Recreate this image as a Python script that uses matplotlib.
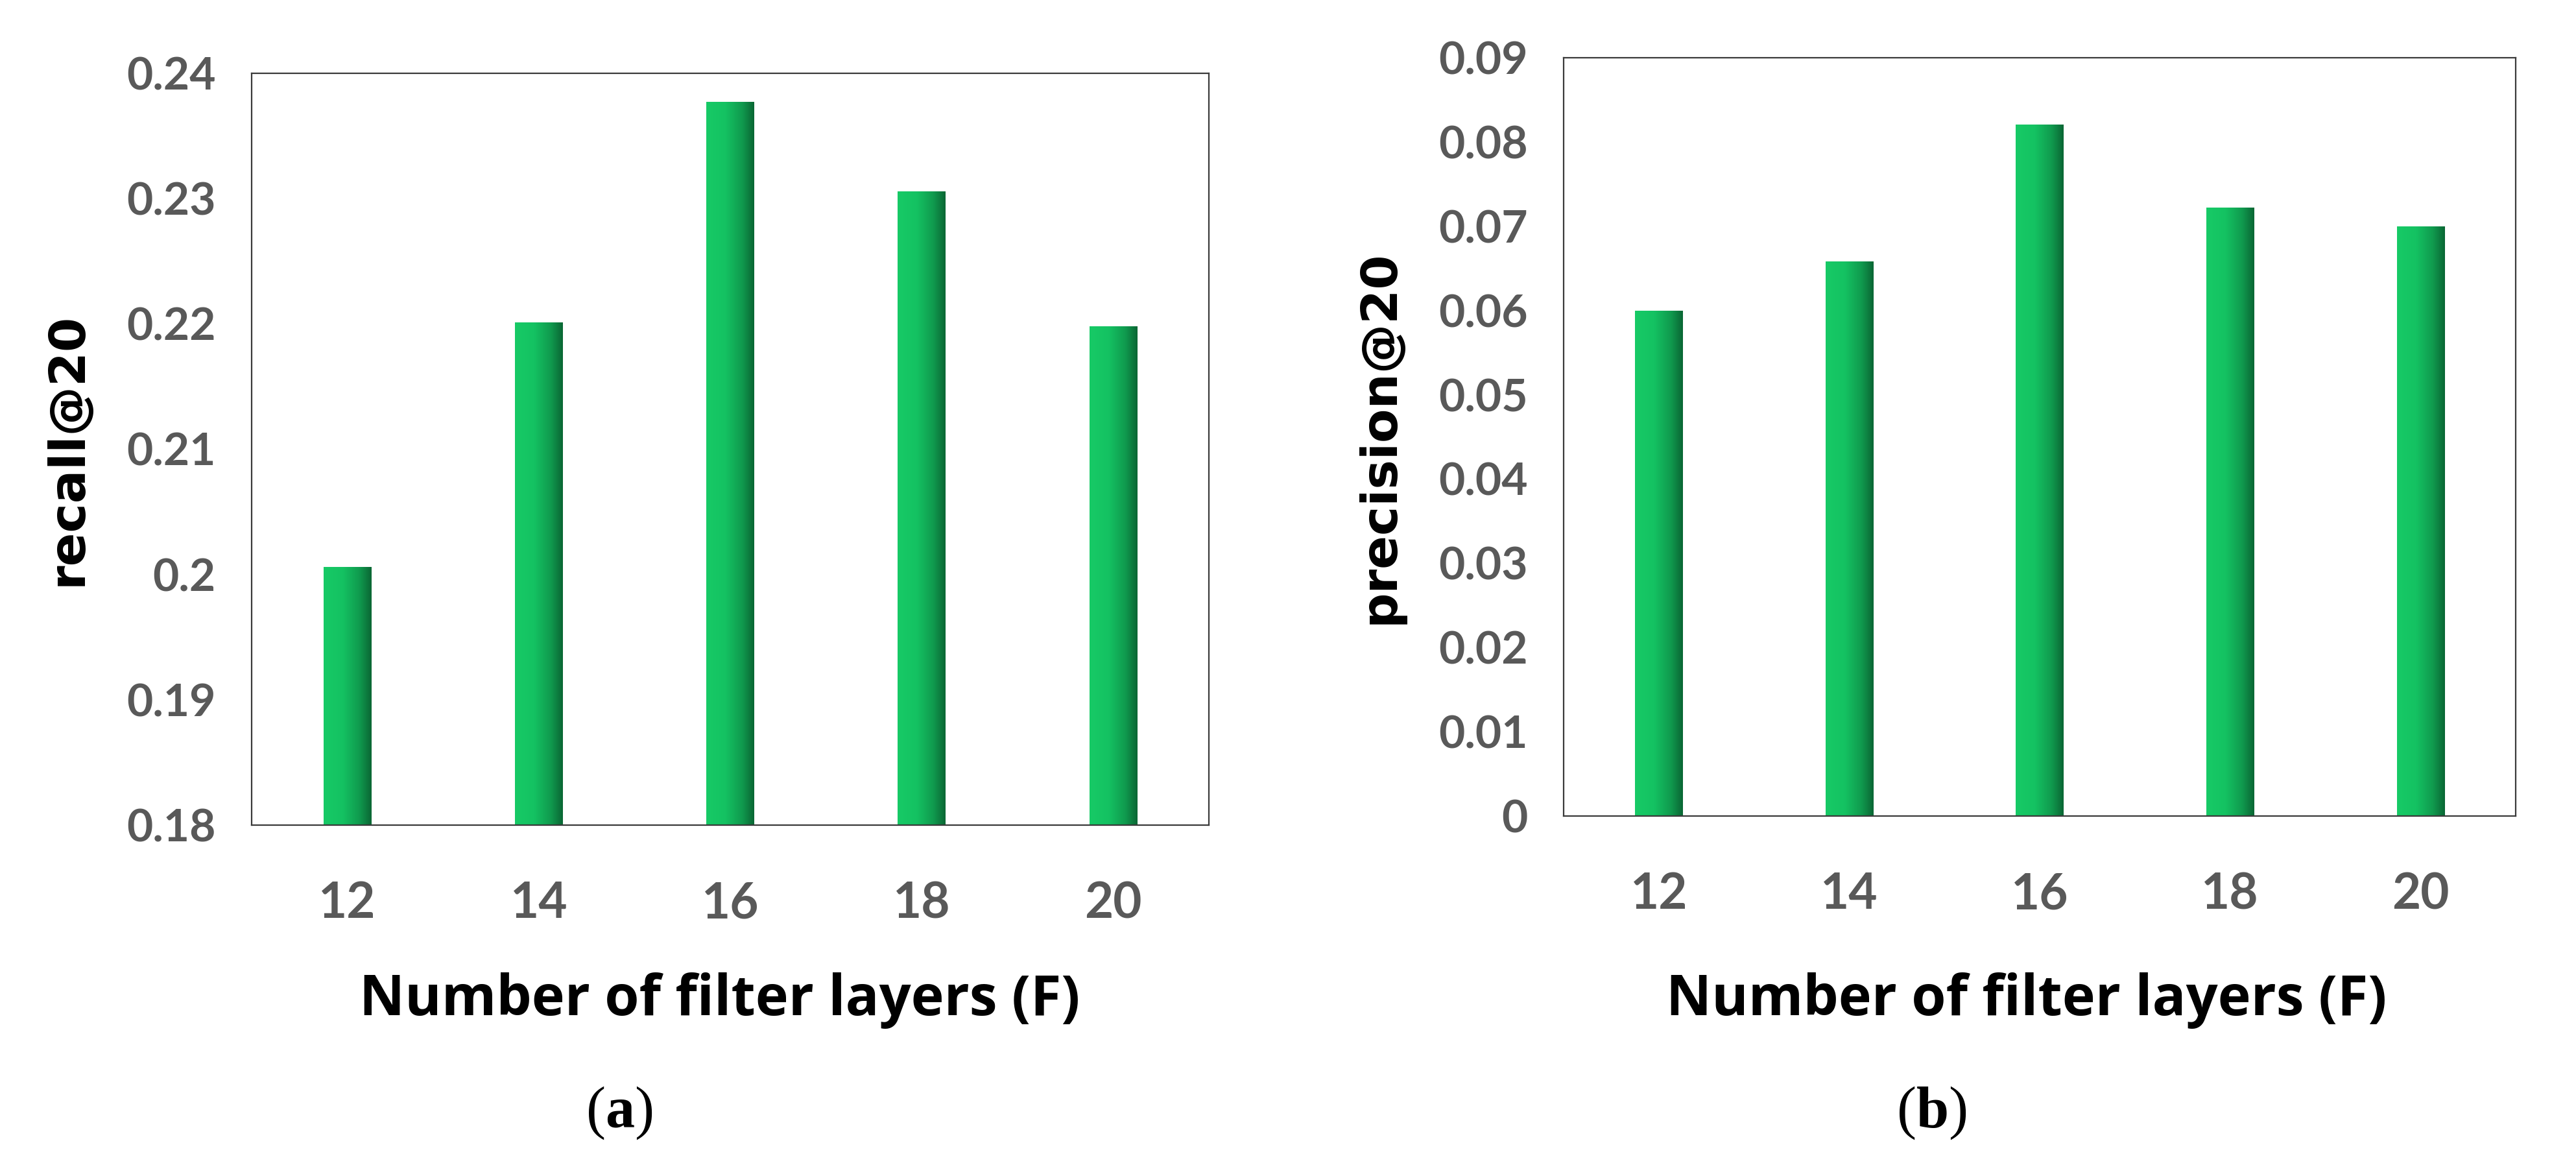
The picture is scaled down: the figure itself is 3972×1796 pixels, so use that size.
import numpy as np
import matplotlib
matplotlib.use("Agg")
import matplotlib.pyplot as plt
from matplotlib import font_manager as fm
from matplotlib.colors import LinearSegmentedColormap

# data
layers = ['12', '14', '16', '18', '20']
recall = [0.2006, 0.2201, 0.2377, 0.2306, 0.2198]
precision = [0.0600, 0.0658, 0.0821, 0.0722, 0.0700]
recall_ticks = [0.18, 0.19, 0.20, 0.21, 0.22, 0.23, 0.24]
recall_ticklabels = ['0.18', '0.19', '0.2', '0.21', '0.22', '0.23', '0.24']
prec_ticks = [0, 0.01, 0.02, 0.03, 0.04, 0.05, 0.06, 0.07, 0.08, 0.09]
prec_ticklabels = ['0', '0.01', '0.02', '0.03', '0.04', '0.05', '0.06', '0.07', '0.08', '0.09']


def pick(names):
    have = {f.name for f in fm.fontManager.ttflist}
    for n in names:
        if n in have:
            return n
    return 'DejaVu Sans'


tick_font = pick(['Lato', 'Open Sans', 'Liberation Sans'])
xlab_font = pick(['Open Sans', 'Lato', 'Liberation Sans'])
ylab_font = pick(['DejaVu Sans Condensed', 'DejaVu Sans'])
cap_font = pick(['Liberation Serif', 'DejaVu Serif'])

plt.rcParams['mathtext.fontset'] = 'custom'
plt.rcParams['mathtext.rm'] = cap_font
plt.rcParams['mathtext.bf'] = cap_font + ':bold'

green = LinearSegmentedColormap.from_list(
    'bar', [(0, '#17CA66'), (0.4, '#14C262'), (0.75, '#109A4E'), (1.0, '#0A6634')])
grad = np.linspace(0, 1, 256).reshape(1, -1)

W, H = 3972, 1796
fig = plt.figure(figsize=(W / 100, H / 100), dpi=100)
fig.patch.set_facecolor('white')


def panel(rect, vals, ylim, ticks, ticklabels, ylabel, ylab_x, xlab):
    ax = fig.add_axes(rect)
    x = np.arange(len(vals))
    bars = ax.bar(x, [v - ylim[0] for v in vals], bottom=ylim[0], width=0.25,
                  color='none', edgecolor='none')
    for b in bars:
        x0, y0 = b.get_x(), b.get_y()
        im = ax.imshow(grad, cmap=green, aspect='auto', interpolation='bicubic',
                       extent=[x0, x0 + b.get_width(), y0, y0 + b.get_height()], zorder=2)
        im.set_clip_path(b)
    ax.set_xlim(-0.5, len(vals) - 0.5)
    ax.set_ylim(*ylim)
    ax.set_xticks(x)
    ax.set_xticklabels(layers, fontsize=55, fontweight='bold', color='#595959', family=tick_font)
    ax.set_yticks(ticks)
    ax.set_yticklabels(ticklabels, fontsize=50, fontweight='bold', color='#595959', family=tick_font)
    ax.tick_params(axis='y', length=0, pad=40)
    ax.tick_params(axis='x', length=0, pad=62)
    for s in ax.spines.values():
        s.set_linewidth(1.6)
        s.set_color('#3a3a3a')
    ax.set_ylabel(ylabel, fontsize=55, fontweight='bold', family=ylab_font, color='black')
    ax.yaxis.set_label_coords(ylab_x, 0.5)
    ax.yaxis.label.set_va('baseline')
    ax.set_xlabel('Number of filter layers (F)', fontsize=62, fontweight='bold',
                  family=xlab_font, color='black')
    ax.xaxis.set_label_coords(*xlab)
    ax.xaxis.label.set_va('baseline')
    return ax


left = [388 / W, 1 - 1272 / H, (1864 - 388) / W, (1272 - 113) / H]
right = [2411 / W, 1 - 1258 / H, (3879 - 2411) / W, (1258 - 89) / H]

panel(left, recall, (0.18, 0.24), recall_ticks, recall_ticklabels, 'recall@20',
      -0.178, (0.489, -0.253))
panel(right, precision, (0, 0.09), prec_ticks, prec_ticklabels, 'precision@20',
      -0.179, (0.486, -0.263))

fig.text(955 / W, 1 - 1738 / H, r'($\mathbf{a}$)', fontsize=65, ha='center', va='baseline', family=cap_font)
fig.text(2978 / W, 1 - 1738 / H, r'($\mathbf{b}$)', fontsize=65, ha='center', va='baseline', family=cap_font)

fig.savefig('out.png', dpi=100, facecolor='white')
